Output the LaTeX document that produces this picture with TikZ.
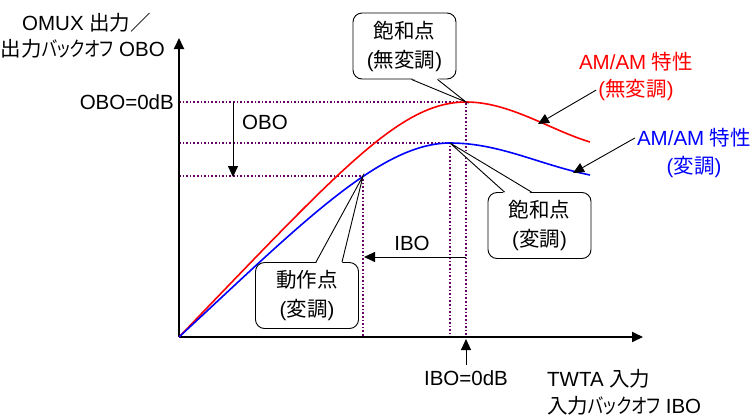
\documentclass[tikz,border=0pt]{standalone}
\usepackage{fontspec}
\setmainfont{Liberation Sans}
\newfontfamily\jp[RawFeature={+palt}]{Noto Sans CJK JP}
\newfontfamily\kana[RawFeature={+palt}, FakeStretch=0.8]{Noto Sans CJK JP}
\usetikzlibrary{arrows.meta,calc}
\tikzset{
	lbl/.style = {font=\fontsize{20.5}{29}\selectfont, inner sep=2pt, align=center},
	guide/.style = {violet!80!black, line width=1.6pt, dotted},
	tip/.style = {-{Triangle[length=11pt,width=10pt]}},
	callbox/.style = {lbl, draw, line width=0.9pt, rounded corners=9pt,
		minimum width=103pt, minimum height=66pt, fill=white},
}
\begin{document}
\begin{tikzpicture}[x=1pt, y=-1pt]
		\useasboundingbox (0,0) rectangle (754,418);
		\coordinate (O) at (179,337);
		\coordinate (satR) at (466,102);
		\coordinate (satB) at (450,143);
		\coordinate (opB) at (363,176);
		%
		% guide lines
		\draw[guide] (179,102) -- (satR) -- (466,337);
		\draw[guide] (179,143) -- (satB) -- (450,337);
		\draw[guide] (179,176) -- (opB) -- (363,337);
		%
		% axes
		\draw[black, line width=1.8pt, tip] (O) -- (643,337);
		\draw[black, line width=1.8pt, tip] (O) -- (179,38);
		\node[lbl, anchor = west] (ytop) at (20,23) {OMUX {\jp 出力／}};
		\node[lbl, anchor = east] (ybot) at (167,49) {{\jp 出力}{\kana バックオフ} OBO};
		\node[lbl, anchor = east] (obo0) at (176,102) {OBO=0dB};
		\node[lbl, anchor = west] (xtop) at (545,379) {TWTA {\jp 入力}};
		\node[lbl, anchor = west] (xbot) at (545,406) {{\jp 入力}{\kana バックオフ} IBO};
		%
		% AM/AM curves
		\draw[red, line width=1.6pt] (O) .. controls (340,170) and (400,102) .. (satR)
			.. controls (510,102) and (550,130) .. (590,142);
		\draw[blue, line width=1.6pt] (O) .. controls (300,225) and (380,143) .. (satB)
			.. controls (500,143) and (540,165) .. (590,175);
		%
		% back-off arrows
		\coordinate (oboA) at (233,102);
		\coordinate (oboB) at (233,177);
		\draw[black, line width=0.9pt, tip] (oboA) -- (oboB);
		\node[lbl] (obo) at (265,122) {OBO};
		\coordinate (iboA) at (466,257);
		\coordinate (iboB) at (364,257);
		\draw[black, line width=0.9pt, tip] (iboA) -- (iboB);
		\node[lbl] (ibo) at (412,243) {IBO};
		\node[lbl] (ibo0) at (466,378) {IBO=0dB};
		\coordinate (ibo0tip) at (466,339);
		\draw[black, line width=0.9pt, tip] (ibo0.north) ++(0,-3) -- (ibo0tip);
		%
		% curve labels
		\node[lbl, red] (redname) at (636,62) {AM/AM {\jp 特性}};
		\node[lbl, red] (redsub) at (636,90) {({\jp 無変調})};
		\coordinate (redtip) at (538,124);
		\draw[black, line width=0.9pt, tip] (redsub.west) -- (redtip);
		\node[lbl, blue] (bluename) at (694,138) {AM/AM {\jp 特性}};
		\node[lbl, blue] (bluesub) at (694,167) {({\jp 変調})};
		\coordinate (bluetip) at (573,173);
		\draw[black, line width=0.9pt, tip] (bluename.west) -- (bluetip);
		%
		% callouts
		\node[callbox] (calR) at (404.5,46) {{\jp 飽和点}\\({\jp 無変調})};
		\fill[white] ($(calR.south)+(7,-1.5)$) -- (satR) -- ($(calR.south)+(33,-1.5)$) -- cycle;
		\draw[black, line width=0.9pt] ($(calR.south)+(7,0)$) -- (satR) -- ($(calR.south)+(33,0)$);
		%
		\node[callbox] (calB) at (539.5,225.5) {{\jp 飽和点}\\({\jp 変調})};
		\fill[white] ($(calB.north)+(-35,1.5)$) -- (satB) -- ($(calB.north)+(-8,1.5)$) -- cycle;
		\draw[black, line width=0.9pt] ($(calB.north)+(-35,0)$) -- (satB) -- ($(calB.north)+(-8,0)$);
		%
		\node[callbox] (calO) at (307,295.5) {{\jp 動作点}\\({\jp 変調})};
		\fill[white] ($(calO.north)+(9,1.5)$) -- (opB) -- ($(calO.north)+(35,1.5)$) -- cycle;
		\draw[black, line width=0.9pt] ($(calO.north)+(9,0)$) -- (opB) -- ($(calO.north)+(35,0)$);
		%
	\end{tikzpicture}
\end{document}
